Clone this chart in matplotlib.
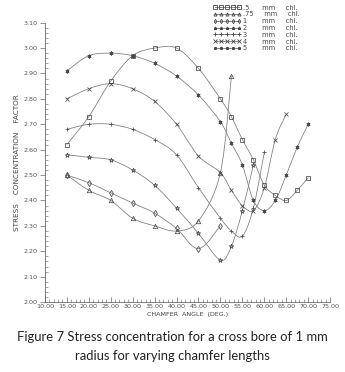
import matplotlib
matplotlib.use('Agg')
import matplotlib.pyplot as plt
from matplotlib.path import Path
from matplotlib.patches import PathPatch
from matplotlib.ticker import MultipleLocator, FormatStrFormatter

# chamfer angle (deg) and stress concentration factor, one pair per chamfer length
x_05 = [15, 20, 25, 30, 35, 40, 45, 50, 52.5, 55, 57.5, 60, 62.5, 65, 67.5, 70]
y_05 = [2.62, 2.73, 2.87, 2.97, 3.00, 3.00, 2.92, 2.80, 2.73, 2.64, 2.56, 2.46, 2.42, 2.40, 2.44, 2.49]

x_075 = [15, 20, 25, 30, 35, 40, 45, 50, 52.5]
y_075 = [2.50, 2.44, 2.40, 2.33, 2.30, 2.28, 2.32, 2.51, 2.89]

x_1 = [15, 20, 25, 30, 35, 40, 45, 50]
y_1 = [2.50, 2.47, 2.43, 2.39, 2.35, 2.29, 2.21, 2.30]

x_2 = [15, 20, 25, 30, 35, 40, 45, 50, 52.5, 55, 57.5]
y_2 = [2.58, 2.57, 2.56, 2.52, 2.46, 2.37, 2.27, 2.165, 2.22, 2.36, 2.54]

x_3 = [15, 20, 25, 30, 35, 40, 45, 50, 52.5, 55, 57.5, 60]
y_3 = [2.68, 2.70, 2.70, 2.68, 2.64, 2.58, 2.45, 2.33, 2.28, 2.26, 2.37, 2.59]

x_4 = [15, 20, 25, 30, 35, 40, 45, 50, 52.5, 55, 57.5, 60, 62.5, 65]
y_4 = [2.80, 2.84, 2.86, 2.84, 2.79, 2.70, 2.575, 2.51, 2.44, 2.38, 2.36, 2.45, 2.64, 2.74]

x_5 = [15, 20, 25, 30, 35, 40, 45, 50, 52.5, 55, 57.5, 60, 62.5, 65, 67.5, 70]
y_5 = [2.91, 2.97, 2.98, 2.97, 2.94, 2.89, 2.815, 2.71, 2.625, 2.54, 2.40, 2.36, 2.40, 2.50, 2.61, 2.70]

labels = ['.5', '.75', '1', '2', '3', '4', '5']


def smooth_path(xs, ys):
    # catmull-rom through the points, as cubic bezier segments
    pts = list(zip(xs, ys))
    verts = [pts[0]]
    codes = [Path.MOVETO]
    for i in range(len(pts) - 1):
        p0 = pts[i - 1] if i > 0 else pts[i]
        p1 = pts[i]
        p2 = pts[i + 1]
        p3 = pts[i + 2] if i + 2 < len(pts) else pts[i + 1]
        c1 = (p1[0] + (p2[0] - p0[0]) / 6, p1[1] + (p2[1] - p0[1]) / 6)
        c2 = (p2[0] - (p3[0] - p1[0]) / 6, p2[1] - (p3[1] - p1[1]) / 6)
        verts += [c1, c2, p2]
        codes += [Path.CURVE4] * 3
    return Path(verts, codes)


fig = plt.figure(figsize=(3.45, 3.72), dpi=100)
ax = fig.add_axes([0.130, 0.188, 0.827, 0.751])

series = [
    (x_05, y_05, 's', 'none', 3.2),
    (x_075, y_075, '^', 'none', 3.2),
    (x_1, y_1, 'd', 'none', 3.2),
    (x_2, y_2, '*', 'none', 3.4),
    (x_3, y_3, '+', 'none', 3.2),
    (x_4, y_4, 'x', 'none', 2.8),
    (x_5, y_5, (6, 2, 0), '#444444', 2.8),
]

for (xs, ys, m, fc, ms) in series:
    ax.add_patch(PathPatch(smooth_path(xs, ys), facecolor='none',
                           edgecolor='#7a7a7a', linewidth=0.55))
    ax.plot(xs, ys, linestyle='none', marker=m, markersize=ms,
            markerfacecolor=fc, markeredgecolor='#4a4a4a', markeredgewidth=0.55)

ax.set_xlim(10, 75)
ax.set_ylim(2.0, 3.1)
ax.xaxis.set_major_locator(MultipleLocator(5))
ax.xaxis.set_minor_locator(MultipleLocator(1))
ax.yaxis.set_major_locator(MultipleLocator(0.1))
ax.yaxis.set_minor_locator(MultipleLocator(0.02))
ax.xaxis.set_major_formatter(FormatStrFormatter('%.2f'))
ax.yaxis.set_major_formatter(FormatStrFormatter('%.2f'))

for side in ['top', 'right']:
    ax.spines[side].set_visible(False)
for side in ['left', 'bottom']:
    ax.spines[side].set_color('#666666')
    ax.spines[side].set_linewidth(0.6)

ax.tick_params(axis='both', which='major', labelsize=4.6, labelcolor='#555555',
               color='#666666', width=0.5, length=3, pad=1.5)
ax.tick_params(axis='x', which='major', direction='in', length=3.5)
ax.tick_params(axis='x', which='minor', direction='in', length=2, width=0.4, color='#666666')
ax.tick_params(axis='y', which='major', direction='out', length=3.5)
ax.tick_params(axis='y', which='minor', direction='in', length=2, width=0.4, color='#666666')

ax.set_xlabel('CHAMFER  ANGLE  (DEG.)', fontsize=4.6, color='#444444', labelpad=2)
ax.set_ylabel('STRESS    CONCENTRATION    FACTOR', fontsize=5.2, color='#444444', labelpad=3)

# legend entries: line with five markers
leg_handles = []
for (xs, ys, m, fc, ms) in series:
    lh, = ax.plot([], [], color='#777777', linewidth=0.6, marker=m, markersize=3.4,
                  markerfacecolor=fc, markeredgecolor='#444444', markeredgewidth=0.6)
    leg_handles.append(lh)
leg_labels = [f'{l:<4}    mm     chl.' for l in labels]
fig.legend(leg_handles, leg_labels, loc='upper left', bbox_to_anchor=(0.61, 0.995),
           numpoints=5, frameon=False, fontsize=4.8, handlelength=4.2,
           handletextpad=0.3, labelspacing=0.12, borderaxespad=0,
           markerscale=0.65, labelcolor='#444444')

fig.text(0.5, 0.093, 'Figure 7 Stress concentration for a cross bore of 1 mm',
         ha='center', va='center', fontsize=9.4, family='Lato', color='#222222')
fig.text(0.5, 0.043, 'radius for varying chamfer lengths',
         ha='center', va='center', fontsize=9.4, family='Lato', color='#222222')

fig.savefig('out.png', dpi=100, facecolor='white')
